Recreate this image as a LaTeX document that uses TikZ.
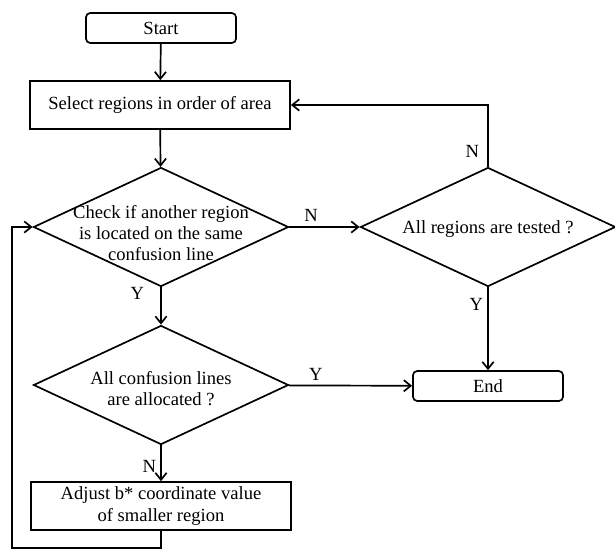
\documentclass[tikz,border=0pt]{standalone}
\usepackage{fontspec}
\setmainfont{Liberation Serif}
\usepackage{tikz}
\usetikzlibrary{arrows.meta,positioning,shapes.geometric}

\begin{document}
\begin{tikzpicture}[x=0.025cm, y=-0.025cm, line width=1.2pt,
  font=\fontsize{13.2}{15}\selectfont,
  term/.style={draw, rounded corners=3pt, minimum width=3.75cm, minimum height=0.75cm, inner sep=0pt},
  proc/.style={draw, align=center, minimum width=6.5cm, minimum height=1.2cm, inner sep=0pt},
  dec/.style={draw, diamond, minimum width=6.375cm, minimum height=2.975cm, inner sep=0pt},
  arr/.style={-{Straight Barb[length=5pt,width=8pt]}},
  lbl/.style={inner sep=3pt}]
  \useasboundingbox (0,0) rectangle (615,554);
  % left column
  \node[term] (start) at (161,28) {Start};
  \node[proc] (select) at (160,105) {Select regions in order of area};
  \node[dec, label={[yshift=-0.15cm, align=center]center:Check if another region\\is located on the same\\confusion line}] (check) at (161,227) {};
  \node[dec, label={[yshift=-0.1cm, align=center]center:All confusion lines\\are allocated ?}] (alloc) at (161,385) {};
  \node[proc, font=\fontsize{13.2}{16}\selectfont] (adjust) at (161,506) {Adjust b* coordinate value\\of smaller region};
  % right column
  \node[dec, label={[yshift=-0.05cm]center:All regions are tested ?}] (tested) at (488,227) {};
  \node[term] (end) at (488,386) {End};
  \coordinate (loop) at (12,548);
  % connectors
  \draw[arr] (start) -- (select);
  \draw[arr] (select) -- (check);
  \draw[arr] (check) -- node[lbl, left, pos=0.15, xshift=-0.3cm]{Y} (alloc);
  \draw[arr] (alloc) -- node[lbl, left, pos=0.6]{N} (adjust);
  \draw[arr] (check) -- node[lbl, above, pos=0.31]{N} (tested);
  \draw[arr] (tested.north) |- node[lbl, left, pos=0.12, xshift=-0.1cm]{N} (select.east);
  \draw[arr] (tested) -- node[lbl, left, pos=0.2]{Y} (end);
  \draw[arr] (alloc) -- node[lbl, above, pos=0.22]{Y} (end);
  \draw[arr] (adjust.south) |- (loop) |- (check.west);
\end{tikzpicture}
\end{document}
